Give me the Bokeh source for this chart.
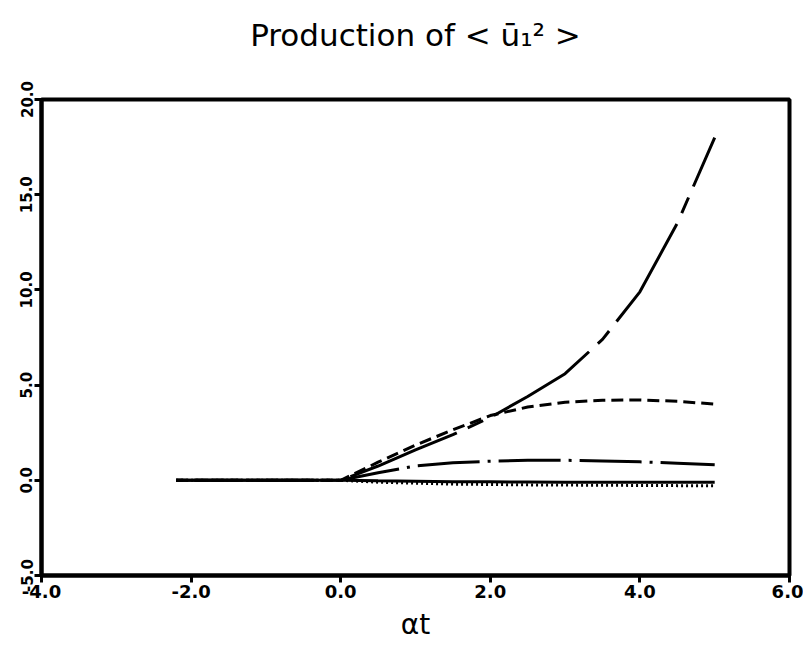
from bokeh.plotting import figure
from bokeh.models import FixedTicker, PrintfTickFormatter, LinearAxis
from bokeh.embed import file_html
from bokeh.resources import INLINE

# ---- data ----
t = [-2.2, 0.0, 0.5, 1.0, 1.5, 2.0, 2.5, 3.0, 3.5, 4.0, 4.5, 5.0]
long_dash = [0.0, 0.0, 0.75, 1.6, 2.4, 3.3, 4.4, 5.6, 7.4, 9.9, 13.5, 18.0]
short_dash = [0.0, 0.0, 0.95, 1.85, 2.65, 3.4, 3.85, 4.1, 4.2, 4.22, 4.15, 4.0]
dash_dot = [0.0, 0.0, 0.4, 0.75, 0.92, 1.0, 1.05, 1.05, 1.02, 0.97, 0.9, 0.82]
solid_zero = [0.0, 0.0, -0.03, -0.05, -0.07, -0.08, -0.09, -0.1, -0.1, -0.1, -0.1, -0.1]
dotted_zero = [0.0, 0.0, -0.1, -0.15, -0.2, -0.22, -0.24, -0.25, -0.26, -0.27, -0.28, -0.28]
x_ticks = [-4.0, -2.0, 0.0, 2.0, 4.0, 6.0]
y_ticks = [-5.0, 0.0, 5.0, 10.0, 15.0, 20.0]
title_text = "Production of < ū₁² >"
x_label = "αt"

FRAME_L, FRAME_T, FRAME_W, FRAME_H = 41, 99, 748, 488
W, H = 803, 643

p = figure(width=W, height=H, x_range=(-4.0, 6.0), y_range=(-5.0, 20.0),
           output_backend="svg", toolbar_location=None,
           min_border_left=FRAME_L, min_border_right=W - FRAME_L - FRAME_W,
           min_border_top=FRAME_T, min_border_bottom=H - FRAME_T - FRAME_H)
p.grid.visible = False
p.outline_line_color = "black"
p.outline_line_width = 4
p.background_fill_color = "white"
p.border_fill_color = "white"

bottom = p.below[0]
left = p.left[0]

for ax, ticks in ((bottom, x_ticks), (left, y_ticks)):
    ax.ticker = FixedTicker(ticks=ticks)
    ax.formatter = PrintfTickFormatter(format="%.1f")
    ax.axis_line_width = 4
    ax.major_tick_line_width = 3
    ax.major_tick_out = 7
    ax.major_tick_in = 0
    ax.minor_tick_out = 0
    ax.minor_tick_in = 0
    ax.major_label_text_font = "DejaVu Sans"
    ax.major_label_text_font_style = "bold"
    ax.major_label_text_color = "black"

bottom.major_label_text_font_size = "18px"
bottom.major_label_standoff = 2
left.major_label_text_font_size = "15px"
left.major_label_orientation = "vertical"
left.major_label_standoff = 2
bottom.axis_label = x_label
bottom.axis_label_text_font = "DejaVu Sans"
bottom.axis_label_text_font_style = "normal"
bottom.axis_label_text_font_size = "28px"
bottom.axis_label_text_color = "black"
bottom.axis_label_standoff = 7

# title drawn as the label of an empty axis above the frame
top = LinearAxis(ticker=FixedTicker(ticks=[]), axis_label=title_text,
                 axis_line_color=None, major_tick_line_color=None,
                 minor_tick_line_color=None)
top.axis_label_text_font = "DejaVu Sans"
top.axis_label_text_font_style = "normal"
top.axis_label_text_font_size = "31px"
top.axis_label_text_color = "black"
top.axis_label_standoff = 47
p.add_layout(top, "above")

common = dict(line_color="black", line_width=3)
p.line(t, long_dash, line_dash="115 12 17 12", line_dash_offset=137, **common)
p.line(t, short_dash, line_dash="12 6", **common)
p.line(t, dash_dot, line_dash="62 8 3 8", **common)
p.line(t, solid_zero, **common)
p.line(t, dotted_zero, line_dash="2 3", **common)

open("out.html", "w").write(file_html(p, INLINE))
